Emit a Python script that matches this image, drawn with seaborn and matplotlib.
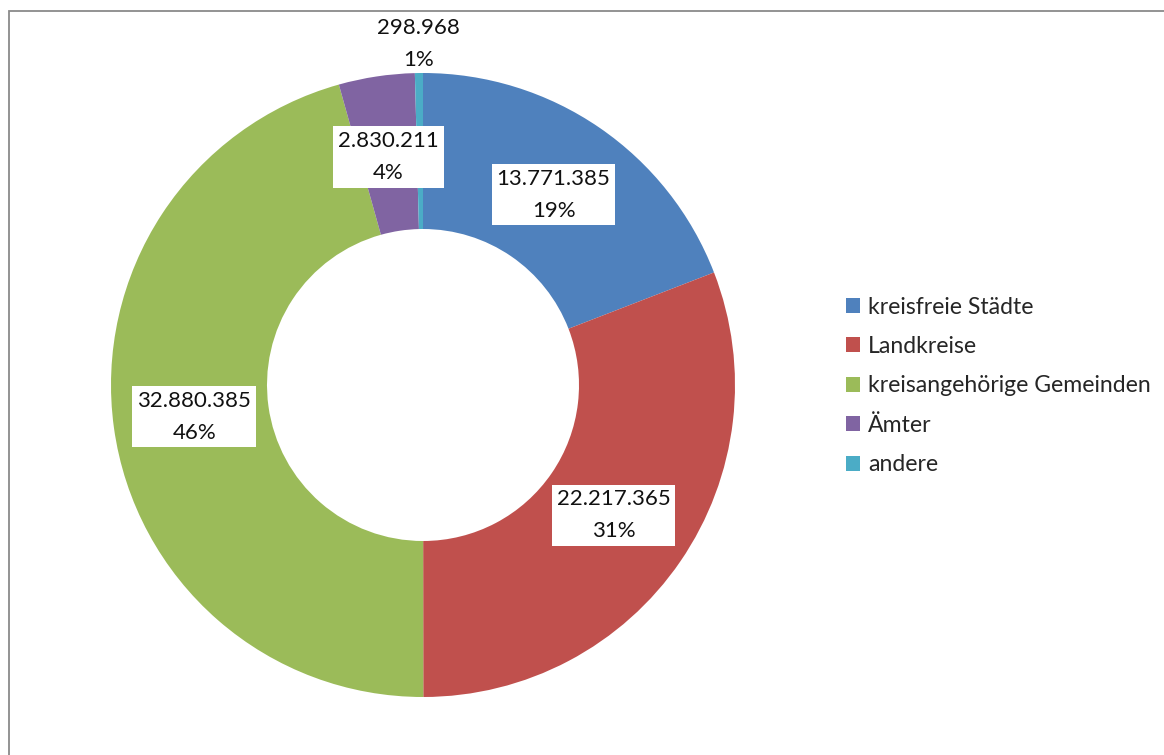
import matplotlib
matplotlib.use("Agg")
import matplotlib.pyplot as plt
from matplotlib.patches import Rectangle, Patch
import seaborn as sns
import numpy as np

# Data: distribution across municipal levels
categories = ["kreisfreie Städte", "Landkreise", "kreisangehörige Gemeinden", "Ämter", "andere"]
values = [13771385, 22217365, 32880385, 2830211, 298968]
value_labels = ["13.771.385", "22.217.365", "32.880.385", "2.830.211", "298.968"]
pct_labels = ["19%", "31%", "46%", "4%", "1%"]
colors = ["#4F81BD", "#C0504D", "#9BBB59", "#8064A2", "#4BACC6"]

sns.set_theme(style="white")
plt.rcParams["font.family"] = ["Lato", "DejaVu Sans"]
palette = sns.color_palette(colors)

W, H, DPI = 1164, 755, 100
fig = plt.figure(figsize=(W / DPI, H / DPI), dpi=DPI)
fig.patch.set_facecolor("white")

# donut centre and outer radius in pixels
cx, cy, R = 423, 385, 312
ax = fig.add_axes([(cx - R) / W, (H - cy - R) / H, 2 * R / W, 2 * R / H])

wedges, _ = ax.pie(values, colors=palette, startangle=90, counterclock=False,
                   radius=1.0, wedgeprops=dict(width=0.5, edgecolor="none", linewidth=0))
ax.set_xlim(-1, 1)
ax.set_ylim(-1, 1)
ax.set_aspect("equal")
ax.axis("off")

total = float(sum(values))
fs = 16
for w, v, vl, pl in zip(wedges, values, value_labels, pct_labels):
    ang = np.deg2rad((w.theta1 + w.theta2) / 2.0)
    small = v / total < 0.01
    r = 1.093 if small else 0.74
    x, y = r * np.cos(ang), r * np.sin(ang)
    kw = dict(ha="center", va="center", fontsize=fs, color="#111111",
              linespacing=1.75, multialignment="center")
    if not small:
        kw["bbox"] = dict(boxstyle="square,pad=0.22", facecolor="white", edgecolor="none")
    ax.text(x, y, f"{vl}\n{pl}", clip_on=False, **kw)

handles = [Patch(facecolor=c, edgecolor="none") for c in palette]
fig.legend(handles, categories, loc="center left",
           bbox_to_anchor=(846 / W, 1 - 386 / H), frameon=False,
           fontsize=16.6, handlelength=0.62, handleheight=0.62,
           handletextpad=0.33, labelspacing=0.8, borderaxespad=0, borderpad=0)

# outer chart frame (right and bottom edges lie outside the canvas)
fig.add_artist(Rectangle((8.5 / W, -0.05), 1.2, 1 - 10.5 / H + 0.05,
                         transform=fig.transFigure, fill=False,
                         edgecolor="#8a8a8a", linewidth=1.3))

fig.savefig("out.png", dpi=DPI, facecolor="white")
